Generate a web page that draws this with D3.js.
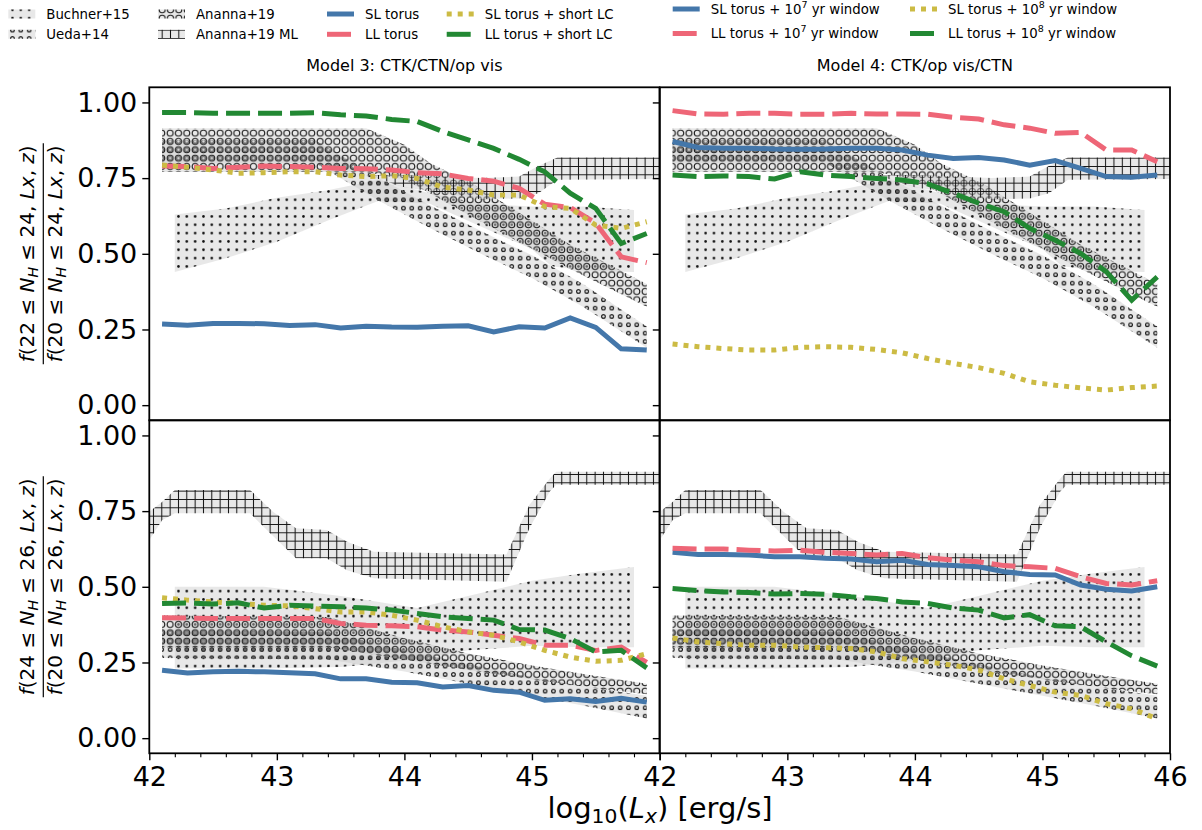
<!DOCTYPE html>
<html>
<head>
<meta charset="utf-8">
<script src="https://cdnjs.cloudflare.com/ajax/libs/d3/7.8.5/d3.min.js"></script>
<style>
body { margin: 0; background: #fff; }
svg { font-family: "DejaVu Sans", sans-serif; }
</style>
</head>
<body>
<div id="chart-area"></div>
<script>
/*
*    obscured fractions, models 3 and 4
*/

// luminosity bins (log10 Lx)
var lx = [42.1, 42.3, 42.5, 42.7, 42.9, 43.1, 43.3, 43.5, 43.7, 43.9, 44.1, 44.3, 44.5, 44.7, 44.9, 45.1, 45.3, 45.5, 45.7, 45.9]

// top row: f(22-24) / f(20-24)
var m3CtnSL  = [0.268, 0.264, 0.270, 0.270, 0.269, 0.263, 0.266, 0.255, 0.261, 0.258, 0.257, 0.261, 0.262, 0.242, 0.259, 0.255, 0.288, 0.257, 0.186, 0.182]
var m3CtnLL  = [0.790, 0.788, 0.782, 0.786, 0.790, 0.788, 0.786, 0.782, 0.781, 0.777, 0.768, 0.764, 0.749, 0.740, 0.716, 0.664, 0.653, 0.601, 0.490, 0.471]
var m3CtnSLs = [0.793, 0.786, 0.777, 0.766, 0.768, 0.771, 0.771, 0.760, 0.755, 0.758, 0.749, 0.720, 0.711, 0.694, 0.694, 0.656, 0.650, 0.595, 0.584, 0.606]
var m3CtnLLs = [0.967, 0.967, 0.964, 0.964, 0.964, 0.964, 0.966, 0.959, 0.955, 0.944, 0.937, 0.904, 0.876, 0.848, 0.812, 0.771, 0.700, 0.650, 0.534, 0.567]

var m4CtnSL7 = [0.871, 0.851, 0.849, 0.849, 0.846, 0.845, 0.846, 0.849, 0.849, 0.843, 0.826, 0.815, 0.818, 0.810, 0.793, 0.808, 0.782, 0.755, 0.753, 0.760]
var m4CtnLL7 = [0.973, 0.962, 0.961, 0.964, 0.964, 0.961, 0.961, 0.964, 0.962, 0.962, 0.961, 0.951, 0.945, 0.926, 0.915, 0.898, 0.901, 0.843, 0.843, 0.804]
var m4CtnSL8 = [0.202, 0.193, 0.187, 0.182, 0.182, 0.191, 0.193, 0.191, 0.184, 0.173, 0.154, 0.138, 0.124, 0.105, 0.077, 0.066, 0.057, 0.050, 0.058, 0.063]
var m4CtnLL8 = [0.760, 0.755, 0.757, 0.755, 0.747, 0.771, 0.760, 0.755, 0.749, 0.744, 0.731, 0.700, 0.667, 0.639, 0.584, 0.545, 0.501, 0.441, 0.347, 0.424]

// bottom row: f(24-26) / f(20-26)
var m3CtkSL  = [0.224, 0.215, 0.219, 0.221, 0.219, 0.216, 0.213, 0.196, 0.196, 0.185, 0.183, 0.169, 0.174, 0.158, 0.152, 0.125, 0.130, 0.121, 0.132, 0.119]
var m3CtkLL  = [0.398, 0.397, 0.395, 0.395, 0.395, 0.395, 0.395, 0.379, 0.373, 0.371, 0.368, 0.357, 0.351, 0.340, 0.329, 0.307, 0.307, 0.290, 0.301, 0.250]
var m3CtkSLs = [0.464, 0.456, 0.450, 0.445, 0.439, 0.437, 0.428, 0.417, 0.417, 0.406, 0.390, 0.368, 0.351, 0.340, 0.318, 0.290, 0.268, 0.254, 0.257, 0.279]
var m3CtkLLs = [0.445, 0.447, 0.443, 0.447, 0.430, 0.439, 0.436, 0.434, 0.430, 0.423, 0.412, 0.401, 0.395, 0.390, 0.359, 0.357, 0.329, 0.285, 0.290, 0.232]

var m4CtkSL7 = [0.614, 0.607, 0.607, 0.605, 0.599, 0.599, 0.594, 0.592, 0.583, 0.588, 0.574, 0.570, 0.566, 0.550, 0.541, 0.539, 0.506, 0.492, 0.486, 0.500]
var m4CtkLL7 = [0.627, 0.625, 0.625, 0.621, 0.618, 0.621, 0.614, 0.610, 0.605, 0.610, 0.596, 0.588, 0.583, 0.570, 0.566, 0.561, 0.533, 0.511, 0.506, 0.520]
var m4CtkSL8 = [0.331, 0.318, 0.312, 0.307, 0.307, 0.301, 0.299, 0.296, 0.285, 0.263, 0.252, 0.241, 0.225, 0.196, 0.174, 0.152, 0.141, 0.114, 0.097, 0.064]
var m4CtkLL8 = [0.494, 0.487, 0.483, 0.481, 0.476, 0.478, 0.475, 0.467, 0.461, 0.450, 0.445, 0.430, 0.423, 0.397, 0.408, 0.371, 0.368, 0.318, 0.272, 0.238]

// observational bands [log Lx, low, high]
var buchnerTop = [[42.2, 0.44, 0.63], [42.6, 0.485, 0.65], [43.0, 0.54, 0.685], [43.4, 0.61, 0.71], [43.8, 0.675, 0.745],
    [44.2, 0.665, 0.70], [44.6, 0.59, 0.665], [45.0, 0.515, 0.656], [45.15, 0.46, 0.656], [45.4, 0.445, 0.656], [45.8, 0.44, 0.645]]
var uedaTop = [[42.1, 0.80, 0.875], [43.3, 0.80, 0.875], [43.8, 0.675, 0.75], [44.2, 0.585, 0.66], [44.6, 0.50, 0.575],
    [45.0, 0.42, 0.495], [45.4, 0.325, 0.40], [45.9, 0.19, 0.26]]
var anannaTop = [[42.1, 0.77, 0.915], [43.7, 0.77, 0.915], [44.0, 0.745, 0.86], [44.2, 0.70, 0.80], [44.54, 0.62, 0.73],
    [45.3, 0.45, 0.53], [45.9, 0.325, 0.40]]
var mlTop = [[43.7, 0.76, 0.76], [44.0, 0.72, 0.76], [44.3, 0.70, 0.755], [44.6, 0.68, 0.75], [44.9, 0.683, 0.755],
    [45.05, 0.70, 0.79], [45.2, 0.745, 0.818], [46.0, 0.747, 0.818]]

var buchnerBot = [[42.2, 0.23, 0.50], [42.9, 0.23, 0.50], [43.5, 0.235, 0.47], [44.1, 0.26, 0.43], [44.5, 0.29, 0.47],
    [45.0, 0.305, 0.52], [45.4, 0.30, 0.545], [45.8, 0.30, 0.565]]
var uedaBot = [[42.1, 0.265, 0.36], [43.4, 0.26, 0.35], [44.0, 0.22, 0.29], [44.5, 0.18, 0.245], [45.0, 0.14, 0.20],
    [45.5, 0.10, 0.165], [45.9, 0.065, 0.14]]
var anannaBot = [[42.1, 0.30, 0.405], [43.4, 0.30, 0.40], [44.0, 0.26, 0.33], [44.5, 0.225, 0.28], [45.0, 0.195, 0.24],
    [45.5, 0.165, 0.205], [45.9, 0.145, 0.18]]
var mlBot = [[42.0, 0.655, 0.748], [42.1, 0.72, 0.78], [42.2, 0.743, 0.82], [42.79, 0.743, 0.82], [42.97, 0.668, 0.748],
    [43.15, 0.594, 0.693], [43.39, 0.594, 0.688], [43.55, 0.555, 0.649], [43.76, 0.528, 0.616], [44.8, 0.517, 0.607],
    [44.98, 0.693, 0.77], [45.14, 0.815, 0.858], [45.19, 0.837, 0.88], [46.0, 0.837, 0.88]]

var yTicks = [0, 0.25, 0.5, 0.75, 1.0]
var titles = ["Model 3: CTK/CTN/op vis", "Model 4: CTK/op vis/CTN"]
var bandLabels = ["Buchner+15", "Ueda+14", "Ananna+19", "Ananna+19 ML"]
var leftLineLabels = ["SL torus", "LL torus", "SL torus + short LC", "LL torus + short LC"]
var rightLineLabels = [["SL torus + 10", "7", " yr window"], ["LL torus + 10", "7", " yr window"],
    ["SL torus + 10", "8", " yr window"], ["LL torus + 10", "8", " yr window"]]

// styles
var lineColors = ["#4477AA", "#EE6677", "#CCBB44", "#228833"]
var lineDash = [null, "24,8", "5,6", "24,8"]
var bandPatterns = ["hDots", "hSmallO", "hBigO", "hGrid"]

var pl = [149.3, 659.8]
var pt = [87.3, 420.3]
var pw = 510.2
var ph = 333

var svg = d3.select("#chart-area").append("svg")
    .attr("width", 1202)
    .attr("height", 830)

svg.append("rect").attr("width", 1202).attr("height", 830).attr("fill", "#fff")

var defs = svg.append("defs")

defs.append("clipPath").attr("id", "clip")
    .append("rect").attr("width", pw).attr("height", ph)

// hatch tiles, one mark per cell so overlapping hatches line up
var hw = 8.333

function circlePattern(id, r, filled) {
    defs.append("pattern").attr("id", id)
        .attr("patternUnits", "userSpaceOnUse")
        .attr("width", hw).attr("height", hw)
        .append("circle")
        .attr("cx", hw / 2).attr("cy", hw / 2).attr("r", r)
        .attr("fill", filled ? "#111" : "none")
        .attr("stroke", filled ? "none" : "#111")
        .attr("stroke-width", 1.1)
}
circlePattern("hDots", 1.3, true)
circlePattern("hSmallO", 1.8, false)
circlePattern("hBigO", 3.0, false)

var gp = defs.append("pattern").attr("id", "hGrid")
    .attr("patternUnits", "userSpaceOnUse")
    .attr("width", hw).attr("height", hw)
gp.append("path")
    .attr("d", "M0," + hw / 2 + "H" + hw + "M" + hw / 2 + ",0V" + hw)
    .attr("stroke", "#111").attr("stroke-width", 1)

var x = d3.scaleLinear().domain([42, 46]).range([0, pw])
var y = d3.scaleLinear().domain([-0.05, 1.05]).range([ph, 0])

var area = d3.area()
    .x(d => x(d[0]))
    .y0(d => y(d[1]))
    .y1(d => y(d[2]))

var line = d3.line()
    .x((d, i) => x(lx[i]))
    .y(d => y(d))

var panels = [
    {col: 0, row: 0, bands: [buchnerTop, uedaTop, anannaTop, mlTop], lines: [m3CtnSL, m3CtnLL, m3CtnSLs, m3CtnLLs]},
    {col: 1, row: 0, bands: [buchnerTop, uedaTop, anannaTop, mlTop], lines: [m4CtnSL7, m4CtnLL7, m4CtnSL8, m4CtnLL8]},
    {col: 0, row: 1, bands: [buchnerBot, uedaBot, anannaBot, mlBot], lines: [m3CtkSL, m3CtkLL, m3CtkSLs, m3CtkLLs]},
    {col: 1, row: 1, bands: [buchnerBot, uedaBot, anannaBot, mlBot], lines: [m4CtkSL7, m4CtkLL7, m4CtkSL8, m4CtkLL8]}
]

panels.forEach(p => {
    var g = svg.append("g")
        .attr("transform", "translate(" + pl[p.col] + ", " + pt[p.row] + ")")
    var inner = g.append("g").attr("clip-path", "url(#clip)")

    p.bands.forEach((b, i) => {
        inner.append("path").attr("d", area(b))
            .attr("fill", "#cccccc").attr("fill-opacity", 0.45)
        inner.append("path").attr("d", area(b))
            .attr("fill", "url(#" + bandPatterns[i] + ")")
    })

    p.lines.forEach((s, i) => {
        inner.append("path").attr("d", line(s))
            .attr("fill", "none")
            .attr("stroke", lineColors[i])
            .attr("stroke-width", 5)
            .attr("stroke-dasharray", lineDash[i])
    })

    // y axis (labels only on the left column)
    var leftAxis = d3.axisLeft(y)
        .tickValues(yTicks)
        .tickSize(7)
        .tickPadding(5)
        .tickFormat(p.col == 0 ? d3.format(".2f") : "")
    var ya = g.append("g").call(leftAxis)
    ya.select(".domain").remove()
    ya.attr("font-size", 27).attr("font-family", "DejaVu Sans")
    ya.selectAll("line").attr("stroke-width", 1.4)

    if (p.row == 1) {
        var bottomAxis = d3.axisBottom(x)
            .tickValues([42, 43, 44, 45, 46])
            .tickSize(7)
            .tickPadding(7)
            .tickFormat(d => (p.col == 0 && d == 46) ? "" : d)
        var xa = g.append("g").attr("transform", "translate(0, " + ph + ")").call(bottomAxis)
        xa.select(".domain").remove()
        xa.attr("font-size", 27).attr("font-family", "DejaVu Sans")
        xa.selectAll("line").attr("stroke-width", 1.4)

        var minorAxis = d3.axisBottom(x)
            .tickValues(x.ticks(20).filter(d => Math.abs(d - Math.round(d)) > 0.01))
            .tickSize(4)
            .tickFormat("")
        var xm = g.append("g").attr("transform", "translate(0, " + ph + ")").call(minorAxis)
        xm.select(".domain").remove()
        xm.selectAll("line").attr("stroke-width", 1.1)
    }

    g.append("rect")
        .attr("width", pw).attr("height", ph)
        .attr("fill", "none").attr("stroke", "#000").attr("stroke-width", 1.8)

    if (p.row == 0) {
        g.append("text")
            .attr("x", pw / 2).attr("y", -16.5)
            .attr("text-anchor", "middle")
            .attr("font-size", "16px")
            .text(titles[p.col])
    }
})

// x axis label
var xl = svg.append("text")
    .attr("x", 660).attr("y", 818)
    .attr("text-anchor", "middle")
    .attr("font-size", "29px")
xl.append("tspan").text("log")
xl.append("tspan").attr("font-size", "20.3px").attr("dy", 5).text("10")
xl.append("tspan").attr("dy", -5).text("(")
xl.append("tspan").attr("font-style", "italic").text("L")
xl.append("tspan").attr("font-style", "italic").attr("font-size", "20.3px").attr("dy", 5).text("x")
xl.append("tspan").attr("dy", -5).text(") [erg/s]")

// y axis labels as rotated fractions
function fracLabel(cy, lo, hi) {
    var g = svg.append("g").attr("transform", "translate(43.3, " + cy + ") rotate(-90)")
    function part(yb, lowBound) {
        var tx = g.append("text").attr("x", 0).attr("y", yb)
            .attr("text-anchor", "middle").attr("font-size", "20px")
        tx.append("tspan").attr("font-style", "italic").text("f")
        tx.append("tspan").text("(" + lowBound + " \u2264 ")
        tx.append("tspan").attr("font-style", "italic").text("N")
        tx.append("tspan").attr("font-style", "italic").attr("font-size", "14px").attr("dy", 4).text("H")
        tx.append("tspan").attr("dy", -4).text(" \u2264 " + hi + ", ")
        tx.append("tspan").attr("font-style", "italic").text("Lx")
        tx.append("tspan").text(", ")
        tx.append("tspan").attr("font-style", "italic").text("z")
        tx.append("tspan").text(")")
        return tx
    }
    var num = part(-9, lo)
    part(19, 20)
    var w = num.node().getComputedTextLength() + 4
    g.append("line").attr("x1", -w / 2).attr("x2", w / 2)
        .attr("y1", 0).attr("y2", 0)
        .attr("stroke", "#000").attr("stroke-width", 1.2)
}
fracLabel(253.8, 22, 24)
fracLabel(586.8, 24, 26)

// legends
function bandPatch(g, i) {
    g.append("rect").attr("y", -4.5).attr("width", 27).attr("height", 9)
        .attr("fill", "#cccccc").attr("fill-opacity", 0.45)
    g.append("rect").attr("y", -4.5).attr("width", 27).attr("height", 9)
        .attr("fill", "url(#" + bandPatterns[i] + ")")
}
function lineHandle(g, i) {
    g.append("line").attr("x1", 0).attr("x2", 27)
        .attr("stroke", lineColors[i]).attr("stroke-width", 5)
        .attr("stroke-dasharray", lineDash[i])
}

var legCols = [8.3, 158, 327, 446.7]
var legRows = [14, 34.3]
var leftItems = bandLabels.concat(leftLineLabels)
leftItems.forEach((lab, k) => {
    var c = Math.floor(k / 2), r = k % 2
    var g = svg.append("g").attr("transform", "translate(" + legCols[c] + ", " + legRows[r] + ")")
    if (k < 4) bandPatch(g, k)
    else lineHandle(g, k - 4)
    g.append("text").attr("x", 38).attr("y", 0).attr("dy", "0.35em")
        .attr("font-size", "13.3px").text(lab)
})

var rCols = [672.7, 910]
var rRows = [9, 33.5]
rightLineLabels.forEach((lab, k) => {
    var c = Math.floor(k / 2), r = k % 2
    var g = svg.append("g").attr("transform", "translate(" + rCols[c] + ", " + rRows[r] + ")")
    lineHandle(g, k)
    var t = g.append("text").attr("x", 38).attr("y", 0).attr("dy", "0.35em")
        .attr("font-size", "13.3px")
    t.append("tspan").text(lab[0])
    t.append("tspan").attr("font-size", "9.5px").attr("dy", -6).text(lab[1])
    t.append("tspan").attr("dy", 6).text(lab[2])
})
</script>
</body>
</html>
